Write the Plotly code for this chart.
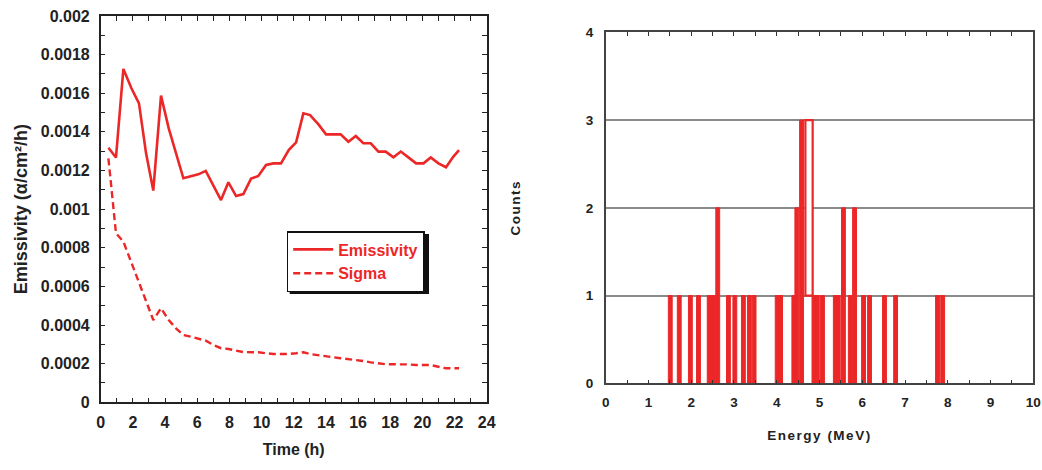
import plotly.graph_objects as go

# ---------------- data ----------------
time_h = [0.48, 0.95, 1.41, 1.91, 2.38, 2.82, 3.27, 3.75, 4.23, 4.68, 5.14, 5.60,
          6.07, 6.53, 7.01, 7.48, 7.94, 8.42, 8.87, 9.35, 9.80, 10.28, 10.74, 11.21,
          11.69, 12.15, 12.60, 13.02, 13.54, 14.01, 14.47, 14.92, 15.40, 15.86, 16.33, 16.79,
          17.27, 17.72, 18.20, 18.66, 19.13, 19.61, 20.07, 20.52, 21.00, 21.47, 21.93, 22.28]

emissivity = [0.001318, 0.001267, 0.001726, 0.001626, 0.001548, 0.001289, 0.001096, 0.001588,
              0.001418, 0.001289, 0.001160, 0.001170, 0.001180, 0.001198, 0.001122, 0.001047,
              0.001139, 0.001068, 0.001078, 0.001158, 0.001172, 0.001229, 0.001237, 0.001237,
              0.001306, 0.001346, 0.001496, 0.001487, 0.001439, 0.001387, 0.001387, 0.001387,
              0.001349, 0.001379, 0.001341, 0.001341, 0.001298, 0.001298, 0.001268, 0.001298,
              0.001268, 0.001237, 0.001237, 0.001268, 0.001237, 0.001217, 0.001272, 0.001306]

sigma = [0.001263, 0.000875, 0.000832, 0.000723, 0.000620, 0.000525, 0.000426, 0.000487,
         0.000426, 0.000383, 0.000348, 0.000340, 0.000331, 0.000319, 0.000297, 0.000280,
         0.000276, 0.000267, 0.000260, 0.000259, 0.000259, 0.000254, 0.000250, 0.000250,
         0.000250, 0.000254, 0.000259, 0.000250, 0.000243, 0.000236, 0.000233, 0.000228,
         0.000224, 0.000219, 0.000214, 0.000207, 0.000202, 0.000197, 0.000197, 0.000197,
         0.000196, 0.000193, 0.000193, 0.000193, 0.000184, 0.000176, 0.000176, 0.000176]

energy_mev = [1.51, 1.72, 1.98, 2.17, 2.42, 2.52, 2.62, 2.87, 3.02, 3.22, 3.36, 3.47,
              4.01, 4.09, 4.40, 4.47, 4.58, 4.87, 4.95, 5.07, 5.37, 5.44, 5.56, 5.72,
              5.82, 6.03, 6.17, 6.52, 6.78, 7.76, 7.88]
counts = [1, 1, 1, 1, 1, 1, 2, 1, 1, 1, 1, 1,
          1, 1, 1, 2, 3, 1, 1, 1, 1, 1, 2, 1,
          2, 1, 1, 1, 1, 1, 1]

# stacked (outlined) box sitting on top of one count
stack_energy = [4.755]
stack_base = [1]
stack_counts = [2]

time_ticks = list(range(0, 25, 2))
emis_tick_vals = [0, 0.0002, 0.0004, 0.0006, 0.0008, 0.001, 0.0012, 0.0014, 0.0016, 0.0018, 0.002]
emis_tick_text = ["0", "0.0002", "0.0004", "0.0006", "0.0008", "0.001", "0.0012", "0.0014",
                  "0.0016", "0.0018", "0.002"]
energy_ticks = list(range(0, 11))
count_ticks = [0, 1, 2, 3, 4]

# ---------------- styling ----------------
RED = "#EC2727"
FONT = "Liberation Sans, Arial, sans-serif"
W, H = 1042, 470

fig = go.Figure()

fig.add_trace(go.Scatter(x=time_h, y=emissivity, mode="lines", name="Emissivity",
                         line=dict(color=RED, width=2.6), xaxis="x", yaxis="y"))
fig.add_trace(go.Scatter(x=time_h, y=sigma, mode="lines", name="Sigma",
                         line=dict(color=RED, width=2.4, dash="7px,4px"), xaxis="x", yaxis="y"))

fig.add_trace(go.Bar(x=energy_mev, y=counts, width=0.09,
                     marker=dict(color=RED, line=dict(color=RED, width=1)),
                     xaxis="x2", yaxis="y2", showlegend=False))
fig.add_trace(go.Bar(x=stack_energy, y=stack_counts, base=stack_base, width=0.17,
                     marker=dict(color="white", line=dict(color=RED, width=2.2)),
                     xaxis="x2", yaxis="y2", showlegend=False))

# panel areas in pixels
lx0, lx1, ly0, ly1 = 100.7, 486.7, 16.0, 402.3
rx0, rx1, ry0, ry1 = 605.7, 1033.3, 32.3, 383.3

axis_font = dict(family=FONT, size=16, color="#222", weight="bold")
axis_font_r = dict(family=FONT, size=13.5, color="#222", weight="bold")

# legend box (pixels) and its drop shadow
leg_x0, leg_y0, leg_x1, leg_y1 = 286.7, 231.0, 426.0, 291.0
shadow = 3.0

fig.update_layout(
    width=W, height=H,
    margin=dict(l=0, r=0, t=0, b=0, autoexpand=False),
    paper_bgcolor="white", plot_bgcolor="white",
    font=dict(family=FONT, color="#222"),
    showlegend=True,
    barmode="overlay",
    legend=dict(x=leg_x0 / W, y=1 - leg_y0 / H, xanchor="left", yanchor="top",
                bgcolor="white", bordercolor="#111", borderwidth=1.5,
                font=dict(family=FONT, size=16, color=RED, weight="bold"),
                tracegroupgap=0, itemwidth=40),
    shapes=[dict(type="rect", xref="paper", yref="paper", layer="below",
                 x0=(leg_x0 + shadow) / W, x1=(leg_x1 + shadow) / W,
                 y0=1 - (leg_y1 + shadow) / H, y1=1 - (leg_y0 + shadow) / H,
                 fillcolor="#111", line=dict(width=0))],
    xaxis=dict(domain=[lx0 / W, lx1 / W], anchor="y", range=[0, 24], automargin=False,
               tickvals=time_ticks, ticks="inside", ticklen=5, tickwidth=1, tickcolor="#222",
               minor=dict(dtick=1, ticks="inside", ticklen=5, tickwidth=1, tickcolor="#222"),
               showline=True, linecolor="#222", linewidth=1.5, mirror="ticks",
               showgrid=False, zeroline=False, tickfont=axis_font, ticklabelstandoff=5,
               title=dict(text="Time (h)", font=dict(family=FONT, size=16, color="#222", weight="bold"),
                          standoff=14)),
    yaxis=dict(domain=[1 - ly1 / H, 1 - ly0 / H], anchor="x", range=[0, 0.002], automargin=False,
               tickvals=emis_tick_vals, ticktext=emis_tick_text,
               ticks="inside", ticklen=5, tickwidth=1, tickcolor="#222",
               minor=dict(dtick=0.0001, ticks="inside", ticklen=5, tickwidth=1, tickcolor="#222"),
               showline=True, linecolor="#222", linewidth=1.5, mirror="ticks",
               showgrid=False, zeroline=False, tickfont=axis_font, ticklabelstandoff=6,
               title=dict(text="Emissivity (α/cm²/h)",
                          font=dict(family=FONT, size=18, color="#222", weight="bold"), standoff=9)),
    xaxis2=dict(domain=[rx0 / W, rx1 / W], anchor="y2", range=[0, 10], automargin=False,
                tickvals=energy_ticks, ticks="inside", ticklen=4, tickwidth=1, tickcolor="#333",
                minor=dict(dtick=0.5, ticks="inside", ticklen=4, tickwidth=1, tickcolor="#333"),
                showline=True, linecolor="#444", linewidth=1.5, mirror="ticks",
                showgrid=False, zeroline=False, tickfont=axis_font_r, ticklabelstandoff=6,
                title=dict(text='<span style="letter-spacing:1.5px">Energy (MeV)</span>',
                           font=dict(family=FONT, size=13.5, color="#222", weight="bold"), standoff=21)),
    yaxis2=dict(domain=[1 - ry1 / H, 1 - ry0 / H], anchor="x2", range=[0, 4], automargin=False,
                tickvals=count_ticks, ticks="", showline=True, linecolor="#444", linewidth=1.5,
                mirror=True, showgrid=True, gridcolor="#8a8a8a", gridwidth=1.6, zeroline=False,
                tickfont=axis_font_r, ticklabelstandoff=8,
                title=dict(text='<span style="letter-spacing:1.5px">Counts</span>',
                           font=dict(family=FONT, size=13.5, color="#222", weight="bold"), standoff=62)),
)

fig.write_html("out.html")
